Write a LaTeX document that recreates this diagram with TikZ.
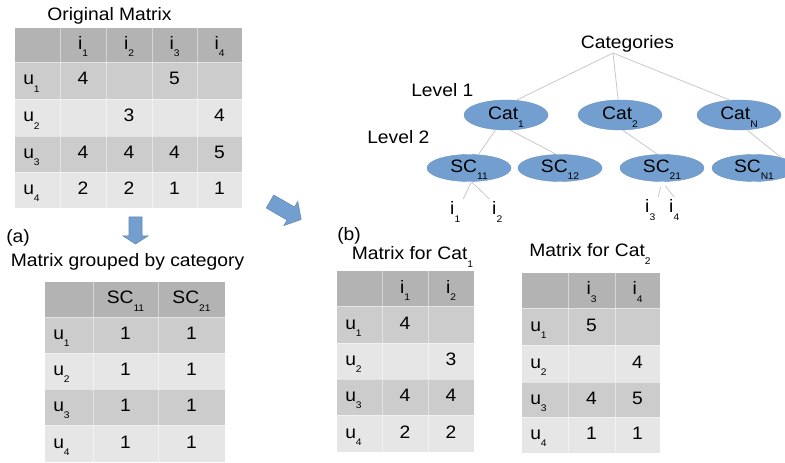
\documentclass[tikz,border=0pt]{standalone}
\usepackage{fontspec}
\setmainfont[FakeStretch=1.07]{Liberation Sans}
\usetikzlibrary{shapes.geometric}
\newcommand\sbs[1]{\raisebox{-5.3pt}{\fontsize{7.2}{8}\selectfont #1}}
\newcommand\bodyfont{\fontsize{13.5}{16}\selectfont}
\definecolor{hdr}{HTML}{B3B3B3}
\definecolor{rowa}{HTML}{CCCCCC}
\definecolor{rowb}{HTML}{E6E6E6}
\definecolor{blu}{HTML}{729FCF}
\tikzset{
  txt/.style={anchor=base, inner sep=0pt, font=\bodyfont, text=black},
  lab/.style={txt, anchor=base west},
  leaf/.style={lab, inner sep=2pt},
  sep/.style={draw=white, draw opacity=0.45, line width=0.7pt},
  cat/.style={ellipse, fill=blu, draw=blu!93!black, line width=0.3pt, inner sep=0pt,
    minimum width=63pt, minimum height=22.5pt, text height=10pt, text depth=2.5pt,
    font=\bodyfont, text=black},
  subcat/.style={cat, minimum height=20.25pt, text height=9.5pt, text depth=2.75pt},
  edge/.style={draw=gray!42, line width=0.6pt},
  blockarrow/.style={fill=blu, draw=blu!85!black, line width=0.4pt, line join=miter},
}
\begin{document}
\begin{tikzpicture}[x=0.75pt, y=-0.75pt]
\useasboundingbox (0,0) rectangle (785,463);
\clip (0,0) rectangle (785,463);
\fill[white] (0,0) rectangle (785,463);

% ---------- Original matrix ----------
\node[txt] (to) at (109.5,20.5) {Original Matrix};
\foreach \ya/\yb/\cl in {28/62/hdr, 62/99/rowa, 99/136/rowb, 136/172/rowa, 172/208/rowb}
  \fill[\cl] (15,\ya) rectangle (242,\yb);
\foreach \xx in {60,106,152,197} \draw[sep] (\xx,28) -- (\xx,208);
\foreach \yy in {62,99,136,172} \draw[sep] (15,\yy) -- (242,\yy);
\node[txt] (t1h1) at (83,49.5) {i\sbs{1}};
\node[txt] (t1h2) at (129,49.5) {i\sbs{2}};
\node[txt] (t1h3) at (174.5,49.5) {i\sbs{3}};
\node[txt] (t1h4) at (219.5,49.5) {i\sbs{4}};
\node[lab] (t1u1) at (23,85) {u\sbs{1}};
\node[lab] (t1u2) at (23,122) {u\sbs{2}};
\node[lab] (t1u3) at (23,158.5) {u\sbs{3}};
\node[lab] (t1u4) at (23,194.5) {u\sbs{4}};
\node[txt] (t1a1) at (83,85) {4};
\node[txt] (t1a3) at (174.5,85) {5};
\node[txt] (t1b2) at (129,122) {3};
\node[txt] (t1b4) at (219.5,122) {4};
\node[txt] (t1c1) at (83,158.5) {4};
\node[txt] (t1c2) at (129,158.5) {4};
\node[txt] (t1c3) at (174.5,158.5) {4};
\node[txt] (t1c4) at (219.5,158.5) {5};
\node[txt] (t1d1) at (83,194.5) {2};
\node[txt] (t1d2) at (129,194.5) {2};
\node[txt] (t1d3) at (174.5,194.5) {1};
\node[txt] (t1d4) at (219.5,194.5) {1};

% ---------- arrows ----------
\draw[blockarrow] (129,217) -- (142,217) -- (142,236) -- (148,236) -- (135.5,244)
  -- (123,236) -- (129,236) -- cycle;
\draw[blockarrow] (273.75,195.0) -- (294.53,207.0) -- (297.78,201.38) -- (301.18,219.5)
  -- (283.78,225.62) -- (287.03,220.0) -- (266.25,208.0) -- cycle;

% ---------- (a) grouped matrix ----------
\node[lab] (pa) at (6,243) {(a)};
\node[txt] (ta) at (127.5,267) {Matrix grouped by category};
\foreach \ya/\yb/\cl in {282/317/hdr, 317/353/rowa, 353/389/rowb, 389/425/rowa, 425/462/rowb}
  \fill[\cl] (45,\ya) rectangle (225,\yb);
\foreach \xx in {93,158} \draw[sep] (\xx,282) -- (\xx,462);
\foreach \yy in {317,353,389,425} \draw[sep] (45,\yy) -- (225,\yy);
\node[txt] (t2h1) at (125.5,304) {SC\sbs{11}};
\node[txt] (t2h2) at (191.5,304) {SC\sbs{21}};
\node[lab] (t2u1) at (53,339.5) {u\sbs{1}};
\node[lab] (t2u2) at (53,375.5) {u\sbs{2}};
\node[lab] (t2u3) at (53,411.5) {u\sbs{3}};
\node[lab] (t2u4) at (53,448) {u\sbs{4}};
\node[txt] (t2a1) at (125.5,339.5) {1};
\node[txt] (t2a2) at (191.5,339.5) {1};
\node[txt] (t2b1) at (125.5,375.5) {1};
\node[txt] (t2b2) at (191.5,375.5) {1};
\node[txt] (t2c1) at (125.5,411.5) {1};
\node[txt] (t2c2) at (191.5,411.5) {1};
\node[txt] (t2d1) at (125.5,448) {1};
\node[txt] (t2d2) at (191.5,448) {1};

% ---------- (b) matrix for Cat1 ----------
\node[lab] (pb) at (337,241) {(b)};
\node[txt] (tb1) at (412.5,260) {Matrix for Cat\sbs{1}};
\foreach \ya/\yb/\cl in {271/306/hdr, 306/343/rowa, 343/379/rowb, 379/415/rowa, 415/452/rowb}
  \fill[\cl] (337,\ya) rectangle (474,\yb);
\foreach \xx in {382,428} \draw[sep] (\xx,271) -- (\xx,452);
\foreach \yy in {306,343,379,415} \draw[sep] (337,\yy) -- (474,\yy);
\node[txt] (t3h1) at (405,293) {i\sbs{1}};
\node[txt] (t3h2) at (451,293) {i\sbs{2}};
\node[lab] (t3u1) at (345,329) {u\sbs{1}};
\node[lab] (t3u2) at (345,365.5) {u\sbs{2}};
\node[lab] (t3u3) at (345,401.5) {u\sbs{3}};
\node[lab] (t3u4) at (345,438) {u\sbs{4}};
\node[txt] (t3a1) at (405,329) {4};
\node[txt] (t3b2) at (451,365.5) {3};
\node[txt] (t3c1) at (405,401.5) {4};
\node[txt] (t3c2) at (451,401.5) {4};
\node[txt] (t3d1) at (405,438) {2};
\node[txt] (t3d2) at (451,438) {2};

% ---------- matrix for Cat2 ----------
\node[txt] (tb2) at (590,257) {Matrix for Cat\sbs{2}};
\foreach \ya/\yb/\cl in {273/308/hdr, 308/345/rowa, 345/382/rowb, 382/417/rowa, 417/453/rowb}
  \fill[\cl] (522,\ya) rectangle (660,\yb);
\foreach \xx in {568,615} \draw[sep] (\xx,273) -- (\xx,453);
\foreach \yy in {308,345,382,417} \draw[sep] (522,\yy) -- (660,\yy);
\node[txt] (t4h1) at (591.5,295) {i\sbs{3}};
\node[txt] (t4h2) at (637.5,295) {i\sbs{4}};
\node[lab] (t4u1) at (530,331) {u\sbs{1}};
\node[lab] (t4u2) at (530,368) {u\sbs{2}};
\node[lab] (t4u3) at (530,404) {u\sbs{3}};
\node[lab] (t4u4) at (530,439.5) {u\sbs{4}};
\node[txt] (t4a1) at (591.5,331) {5};
\node[txt] (t4b2) at (637.5,368) {4};
\node[txt] (t4c1) at (591.5,404) {4};
\node[txt] (t4c2) at (637.5,404) {5};
\node[txt] (t4d1) at (591.5,439.5) {1};
\node[txt] (t4d2) at (637.5,439.5) {1};

% ---------- category tree ----------
\node[txt] (root) at (627.5,49) {Categories};
\coordinate (rootc) at (613,53);
\node[lab] (lv1) at (411,97) {Level 1};
\node[lab] (lv2) at (367,144) {Level 2};
\node[cat] (cat1) at (506,115) {Cat\sbs{1}};
\node[cat] (cat2) at (620,115) {Cat\sbs{2}};
\node[cat] (catn) at (739,115) {Cat\sbs{N}};
\node[subcat] (sc11) at (469,168) {SC\sbs{11}};
\node[subcat] (sc12) at (560,168) {SC\sbs{12}};
\node[subcat] (sc21) at (662,168) {SC\sbs{21}};
\node[subcat] (scn1) at (754,168) {SC\sbs{N1}};
\node[leaf] (l1) at (447.3,215) {i\sbs{1}};
\node[leaf] (l2) at (489.3,215) {i\sbs{2}};
\node[leaf] (l3) at (642.3,213) {i\sbs{3}};
\node[leaf] (l4) at (666.3,213) {i\sbs{4}};

\draw[edge] (rootc) -- (cat1.55);
\draw[edge] (rootc) -- (cat2.97);
\draw[edge] (rootc) -- (catn.121);
\draw[edge] (cat1) -- (sc11);
\draw[edge] (cat1.-75) -- (sc12.105);
\draw[edge] (cat2.-80) -- (sc21.108);
\draw[edge] (catn.-62) -- (scn1.21);
\draw[edge] (sc11.-80) -- (l1.north east);
\draw[edge] (sc11.-80) -- (l2.north west);
\draw[edge, shorten <=4pt] (sc21.-90) -- (l3.north east);
\draw[edge, shorten <=4pt] (sc21.-90) -- (l4.north);
\end{tikzpicture}
\end{document}
